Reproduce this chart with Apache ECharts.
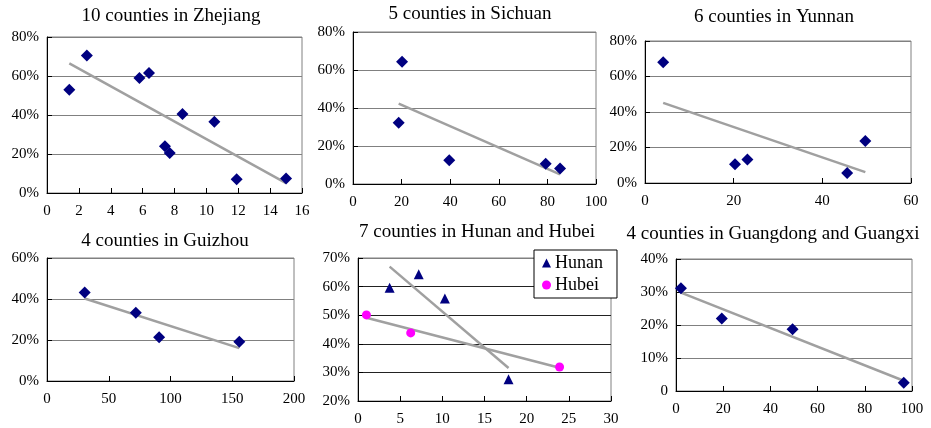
<!DOCTYPE html>
<html><head><meta charset="utf-8">
<script src="https://cdn.jsdelivr.net/npm/echarts@6/dist/echarts.min.js"></script>
<style>html,body{margin:0;padding:0;background:#fff}#c{width:931px;height:428px}</style>
</head><body><div id="c"></div>
<script>
// ---- data (x values, share in %) ----
const zhejiangX = [1.4, 2.5, 5.8, 6.4, 8.5, 10.5, 7.4, 7.7, 11.9, 15.0];
const zhejiangY = [53, 70.5, 59, 61.5, 40.5, 36.5, 24, 20.5, 7, 7.5];
const sichuanX = [20.2, 18.8, 39.6, 79.3, 85.2];
const sichuanY = [64.3, 32.2, 12.5, 10.7, 8.1];
const yunnanX = [4.1, 20.3, 23.1, 45.6, 49.7];
const yunnanY = [68, 10.5, 13.3, 5.6, 23.7];
const guizhouX = [30.5, 71.9, 90.8, 155.7];
const guizhouY = [43.2, 33.3, 21.4, 19.1];
const hunanX = [3.75, 7.2, 10.3, 17.85];
const hunanY = [59.6, 64.3, 55.8, 27.6];
const hubeiX = [1.0, 6.25, 23.9];
const hubeiY = [50.1, 43.8, 31.9];
const guangX = [2.1, 19.4, 49.4, 96.5];
const guangY = [31.1, 22.0, 18.7, 2.5];

const titles = ['10 counties in Zhejiang', '5 counties in Sichuan', '6 counties in Yunnan',
  '4 counties in Guizhou', '7 counties in Hunan and Hubei', '4 counties in Guangdong and Guangxi'];
const xRanges = [[0, 16, 2], [0, 100, 20], [0, 60, 20], [0, 200, 50], [0, 30, 5], [0, 100, 20]];
const yRanges = [[0, 80, 20], [0, 80, 20], [0, 80, 20], [0, 60, 20], [20, 70, 10], [0, 40, 10]];

const FONT = 'Liberation Serif';
const NAVY = '#000080';

function trend(xs, ys) {
  const n = xs.length;
  const mx = xs.reduce((a, b) => a + b, 0) / n;
  const my = ys.reduce((a, b) => a + b, 0) / n;
  let sxy = 0, sxx = 0;
  for (let i = 0; i < n; i++) { sxy += (xs[i] - mx) * (ys[i] - my); sxx += (xs[i] - mx) ** 2; }
  const b = sxy / sxx, a = my - b * mx;
  const x0 = Math.min(...xs), x1 = Math.max(...xs);
  return [[x0, a + b * x0], [x1, a + b * x1]];
}
const pairs = (xs, ys) => xs.map((x, i) => [x, ys[i]]);

// layout
const grids = [
  {left: 47, top: 37, width: 255, height: 156},
  {left: 353, top: 32, width: 243, height: 152},
  {left: 645, top: 41, width: 266, height: 142},
  {left: 47, top: 258, width: 247, height: 123},
  {left: 358, top: 258, width: 253, height: 143},
  {left: 676, top: 259, width: 236, height: 132}
];
const titlePos = [[171, 7], [470, 5], [774, 8], [165, 232], [477, 223], [773, 225]];

const option = {
  animation: false,
  backgroundColor: '#fff',
  title: titles.map((t, i) => ({
    text: t, left: titlePos[i][0], top: titlePos[i][1], textAlign: 'center', padding: 0,
    textStyle: {fontFamily: FONT, fontSize: 19, fontWeight: 'normal', color: '#000'}
  })),
  grid: grids.map(g => Object.assign({show: true, borderColor: '#808080', borderWidth: 1,
    backgroundColor: 'transparent', containLabel: false}, g)),
  xAxis: xRanges.map((r, i) => ({
    type: 'value', gridIndex: i, min: r[0], max: r[1], interval: r[2],
    axisLine: {show: true, onZero: false, lineStyle: {color: '#000', width: 1}},
    axisTick: {show: true, inside: true, length: 5, lineStyle: {color: '#000'}},
    splitLine: {show: false},
    axisLabel: {color: '#000', fontFamily: FONT, fontSize: 15, margin: 11}
  })),
  yAxis: yRanges.map((r, i) => ({
    type: 'value', gridIndex: i, min: r[0], max: r[1], interval: r[2],
    axisLine: {show: true, onZero: false, lineStyle: {color: '#000', width: 1}},
    axisTick: {show: true, inside: true, length: 5, lineStyle: {color: '#000'}},
    splitLine: {show: true, lineStyle: {color: i === 4 ? ['#222', '#222', '#222', '#222', '#222', '#808080'] : '#808080', width: 1}},
    axisLabel: {color: '#000', fontFamily: FONT, fontSize: 15, margin: 8,
      formatter: v => (i === 5 && v === 0) ? '0' : v + '%'}
  })),
  legend: {
    data: ['Hunan', 'Hubei'], orient: 'vertical', left: 534, top: 250,
    backgroundColor: '#fff', borderColor: '#000', borderWidth: 1, borderRadius: 0,
    padding: [4, 14, 4, 8], itemGap: 4, itemWidth: 9, itemHeight: 9,
    textStyle: {fontFamily: FONT, fontSize: 18, color: '#000', padding: [0, 0, 0, -1]}, z: 10
  },
  series: []
};

const sets = [
  [zhejiangX, zhejiangY], [sichuanX, sichuanY], [yunnanX, yunnanY], [guizhouX, guizhouY],
  null, [guangX, guangY]
];
function addTrend(i, xs, ys) {
  option.series.push({type: 'line', xAxisIndex: i, yAxisIndex: i, data: trend(xs, ys),
    showSymbol: false, silent: true, lineStyle: {color: '#a0a0a0', width: 2.5}, z: 1});
}
sets.forEach((s, i) => {
  if (!s) return;
  addTrend(i, s[0], s[1]);
  option.series.push({type: 'scatter', xAxisIndex: i, yAxisIndex: i, data: pairs(s[0], s[1]),
    symbol: 'diamond', symbolSize: 12, itemStyle: {color: NAVY, opacity: 1}, z: 3});
});
addTrend(4, hunanX, hunanY);
addTrend(4, hubeiX, hubeiY);
option.series.push({name: 'Hunan', type: 'scatter', xAxisIndex: 4, yAxisIndex: 4, data: pairs(hunanX, hunanY),
  symbol: 'triangle', symbolSize: 10, itemStyle: {color: NAVY, opacity: 1}, z: 3});
option.series.push({name: 'Hubei', type: 'scatter', xAxisIndex: 4, yAxisIndex: 4, data: pairs(hubeiX, hubeiY),
  symbol: 'circle', symbolSize: 9, itemStyle: {color: '#ff00ff', opacity: 1}, z: 3});

const chart = echarts.init(document.getElementById('c'), null, {renderer: 'canvas'});
chart.setOption(option);
</script></body></html>
